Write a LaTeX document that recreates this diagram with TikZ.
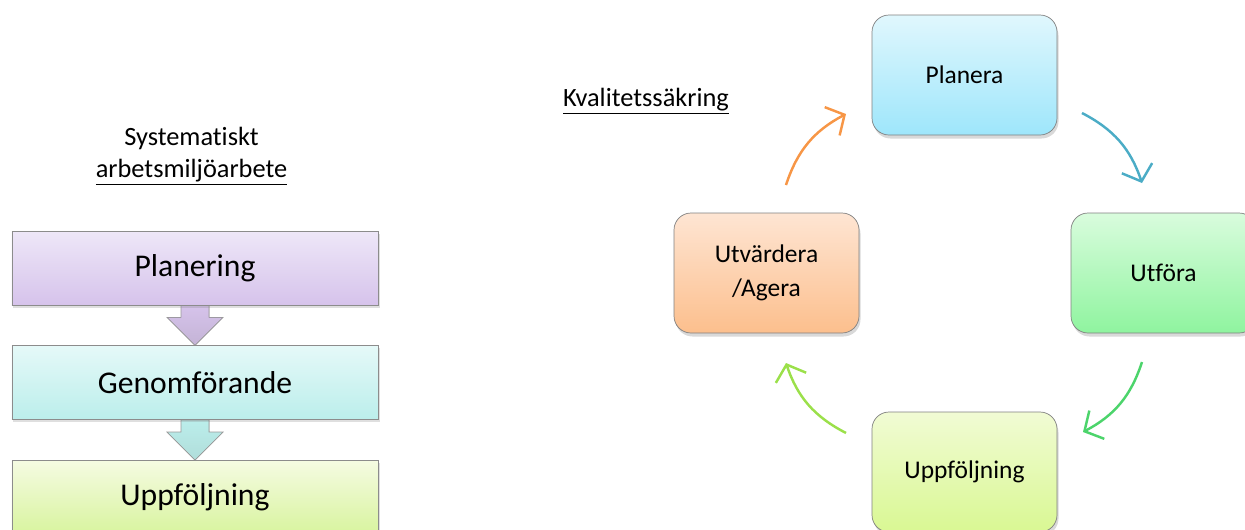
\documentclass[tikz,border=0pt]{standalone}
\usepackage{fontspec}
\setmainfont{Carlito}[Ligatures=NoCommon]
\usepackage{tikz}
\usetikzlibrary{shapes, arrows.meta, positioning, calc, shadows, backgrounds}

\definecolor{plTop}{HTML}{EEE7F8}
\definecolor{plBot}{HTML}{D6C3EB}
\definecolor{geTop}{HTML}{E5F9F8}
\definecolor{geBot}{HTML}{BBEEEB}
\definecolor{upTop}{HTML}{F5FBE2}
\definecolor{upBot}{HTML}{D8F49E}
\definecolor{plaTop}{HTML}{E0F7FD}
\definecolor{plaBot}{HTML}{9EE6FB}
\definecolor{utfTop}{HTML}{D9FCDD}
\definecolor{utfBot}{HTML}{8FF49F}
\definecolor{uppTop}{HTML}{F1FBD4}
\definecolor{uppBot}{HTML}{D9F893}
\definecolor{utvTop}{HTML}{FEE5D3}
\definecolor{utvBot}{HTML}{FCBF8D}
\definecolor{arOrange}{HTML}{F79646}
\definecolor{arBlue}{HTML}{4BACC6}
\definecolor{arGreen}{HTML}{4CD46B}
\definecolor{arLime}{HTML}{9BE04A}

\begin{document}
\begin{tikzpicture}[
  stage/.style={rectangle, draw=black!45, minimum width=7.32cm, minimum height=1.48cm, inner sep=0pt, font=\fontsize{18}{21}\selectfont, drop shadow={opacity=0.25, shadow xshift=0.03cm, shadow yshift=-0.05cm}},
  phase/.style={rectangle, rounded corners=0.34cm, draw=black!50, minimum width=3.7cm, minimum height=2.4cm, inner sep=0pt, align=center, font=\fontsize{14.5}{19.5}\selectfont, drop shadow={opacity=0.3, shadow xshift=0.03cm, shadow yshift=-0.07cm}},
  blockarrow/.style={draw=black!40, line width=0.4pt},
  flow/.style={line width=1.4pt, -{Straight Barb[length=2.8mm, width=6.4mm]}, bend left=22}
]
\useasboundingbox (0,0) rectangle (24.9,-10.58);

\node[align=center, font=\fontsize{15}{18}\selectfont] (sam_title) at (3.83,-3.13) {Systematiskt\\\underline{arbetsmiljöarbete}};
\node[stage, top color=plTop, bottom color=plBot] (planering) at (3.9,-5.36) {Planering};
\node[stage, top color=geTop, bottom color=geBot, below=0.8cm of planering] (genom) {Genomförande};
\node[stage, top color=upTop, bottom color=upBot, below=0.8cm of genom] (uppfolj) {Uppföljning};

\begin{pgfonlayer}{background}
\filldraw[blockarrow, top color=plBot, bottom color=plBot!90!black!95] ($(planering.south)+(-0.28,0)$) -- ++(0,-0.24) -- ++(-0.28,0) -- (genom.north) -- ($(planering.south)+(0.56,-0.24)$) -- ++(-0.28,0) -- ($(planering.south)+(0.28,0)$) -- cycle;
\filldraw[blockarrow, top color=geBot, bottom color=geBot!92!black!95] ($(genom.south)+(-0.28,0)$) -- ++(0,-0.24) -- ++(-0.28,0) -- (uppfolj.north) -- ($(genom.south)+(0.56,-0.24)$) -- ++(-0.28,0) -- ($(genom.south)+(0.28,0)$) -- cycle;
\end{pgfonlayer}

\node[font=\fontsize{15}{18}\selectfont] (kval_title) at (12.92,-2.02) {\underline{Kvalitetssäkring}};
\node[phase, top color=plaTop, bottom color=plaBot] (planera) at (19.29,-1.5) {Planera};
\node[phase, top color=utfTop, bottom color=utfBot] (utfora) at (23.27,-5.46) {Utföra};
\node[phase, top color=uppTop, bottom color=uppBot] (uppf) at (19.29,-9.44) {Uppföljning};
\node[phase, top color=utvTop, bottom color=utvBot] (utvardera) at (15.33,-5.46) {Utvärdera\\/Agera};

\coordinate (pl_out) at (21.64,-2.26);
\coordinate (utf_in) at (22.84,-3.66);
\coordinate (utf_out) at (22.84,-7.24);
\coordinate (upp_in) at (21.66,-8.64);
\coordinate (upp_out) at (16.92,-8.66);
\coordinate (utv_in) at (15.72,-7.26);
\coordinate (utv_out) at (15.72,-3.70);
\coordinate (pl_in) at (16.92,-2.28);
\path
	(pl_out) edge [flow, arBlue] (utf_in)
	(utf_out) edge [flow, arGreen] (upp_in)
	(upp_out) edge [flow, arLime] (utv_in)
	(utv_out) edge [flow, arOrange] (pl_in)
;
\end{tikzpicture}
\end{document}
